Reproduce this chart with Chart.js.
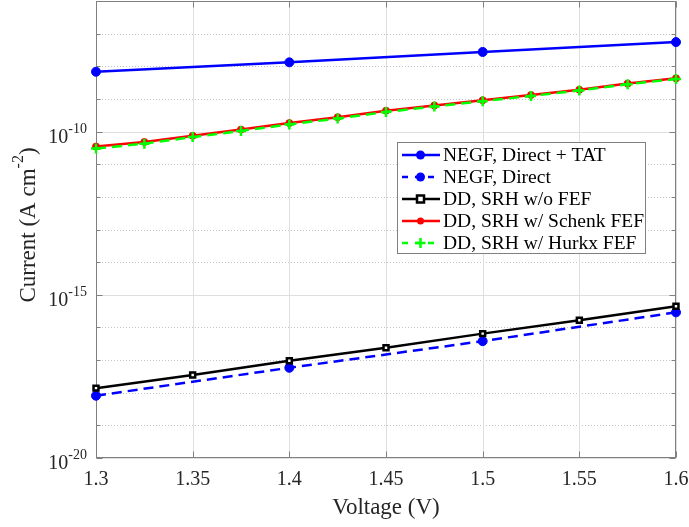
<!DOCTYPE html>
<html>
<head>
<meta charset="utf-8">
<script src="https://cdn.jsdelivr.net/npm/chart.js@4"></script>
<style>
  html, body { margin: 0; padding: 0; background: #fff; }
  #wrap { width: 689px; height: 527px; }
</style>
</head>
<body>
<div id="wrap"><canvas id="chart" width="689" height="527"></canvas></div>
<script>
// bias sweep (V)
const voltageCoarse = [1.3, 1.4, 1.5, 1.6];
const voltageMid = [1.3, 1.35, 1.4, 1.45, 1.5, 1.55, 1.6];
const voltageFine = [1.3, 1.325, 1.35, 1.375, 1.4, 1.425, 1.45, 1.475, 1.5, 1.525, 1.55, 1.575, 1.6];

// current density (A cm^-2)
const negfDirectTat = [6.8e-9, 1.32e-8, 2.75e-8, 5.5e-8];
const negfDirect = [8.1e-19, 5.8e-18, 3.8e-17, 2.9e-16];
const ddSrhNoFef = [1.38e-18, 3.47e-18, 9.55e-18, 2.4e-17, 6.46e-17, 1.66e-16, 4.47e-16];
const ddSrhSchenk = [3.47e-11, 4.79e-11, 7.41e-11, 1.15e-10, 1.82e-10, 2.75e-10, 4.37e-10,
                     6.31e-10, 9.12e-10, 1.32e-9, 1.91e-9, 2.95e-9, 4.27e-9];
const ddSrhHurkx = [3.02e-11, 4.27e-11, 6.76e-11, 1.05e-10, 1.66e-10, 2.51e-10, 3.98e-10,
                    5.89e-10, 8.51e-10, 1.23e-9, 1.82e-9, 2.82e-9, 4.07e-9];

const seriesNames = ['NEGF, Direct + TAT', 'NEGF, Direct', 'DD, SRH w/o FEF',
                     'DD, SRH w/ Schenk FEF', 'DD, SRH w/ Hurkx FEF'];

const xTicks = [1.3, 1.35, 1.4, 1.45, 1.5, 1.55, 1.6];
const xTickLabels = ['1.3', '1.35', '1.4', '1.45', '1.5', '1.55', '1.6'];
const yLabelExps = [-20, -15, -10];
const yDecadeExps = [-20, -19, -18, -17, -16, -15, -14, -13, -12, -11, -10, -9, -8, -7, -6];

const SERIF = '"Liberation Serif", "Times New Roman", serif';
const TXT = '#262626';

function pts(xs, ys) {
  return xs.map((x, i) => ({ x: x, y: ys[i] }));
}

const styles = [
  { color: '#0000ff', dash: [], marker: 'circle', r: 4.5, fill: '#0000ff', bw: 1 },
  { color: '#0000ff', dash: [10, 6], marker: 'circle', r: 4.5, fill: '#0000ff', bw: 1 },
  { color: '#000000', dash: [], marker: 'rect', r: 3.5, fill: '#ffffff', bw: 2.5 },
  { color: '#ff0000', dash: [], marker: 'circle', r: 3.5, fill: '#ff0000', bw: 1 },
  { color: '#00ff00', dash: [10, 6], marker: 'cross', r: 5, fill: '#00ff00', bw: 2.5 }
];

const seriesData = [
  pts(voltageCoarse, negfDirectTat),
  pts(voltageCoarse, negfDirect),
  pts(voltageMid, ddSrhNoFef),
  pts(voltageFine, ddSrhSchenk),
  pts(voltageFine, ddSrhHurkx)
];

const datasets = seriesData.map((d, i) => ({
  label: seriesNames[i],
  data: d,
  borderColor: styles[i].color,
  borderWidth: 2.5,
  borderDash: styles[i].dash,
  pointStyle: styles[i].marker,
  pointRadius: styles[i].r,
  pointBackgroundColor: styles[i].fill,
  pointBorderColor: styles[i].color,
  pointBorderWidth: styles[i].bw,
  tension: 0,
  clip: false,
  order: 5 - i
}));

// axes box, grid, ticks, labels and legend in the MATLAB look
const frame = {
  id: 'frame',
  beforeDatasetsDraw(chart) {
    const { ctx, chartArea: a, scales: { x, y } } = chart;
    ctx.save();
    ctx.lineWidth = 1;
    // decade grid
    yDecadeExps.forEach(e => {
      const py = Math.round(y.getPixelForValue(Math.pow(10, e))) + 0.5;
      if (e % 5 === 0) {
        ctx.setLineDash([]);
        ctx.strokeStyle = '#dfdfdf';
      } else {
        ctx.setLineDash([1, 2]);
        ctx.strokeStyle = '#c4c4c4';
      }
      ctx.beginPath();
      ctx.moveTo(a.left, py);
      ctx.lineTo(a.right, py);
      ctx.stroke();
    });
    ctx.setLineDash([]);
    ctx.strokeStyle = '#dfdfdf';
    xTicks.forEach(v => {
      const px = Math.round(x.getPixelForValue(v)) + 0.5;
      ctx.beginPath();
      ctx.moveTo(px, a.top);
      ctx.lineTo(px, a.bottom);
      ctx.stroke();
    });
    // box
    ctx.strokeStyle = '#808080';
    const L = Math.round(a.left) + 0.5, R = Math.round(a.right) - 0.5;
    const T = Math.round(a.top) + 0.5, B = Math.round(a.bottom) - 0.5;
    ctx.strokeRect(L, T, R - L, B - T);
    // inward ticks
    ctx.beginPath();
    xTicks.forEach(v => {
      const px = Math.round(x.getPixelForValue(v)) + 0.5;
      ctx.moveTo(px, B); ctx.lineTo(px, B - 6);
      ctx.moveTo(px, T); ctx.lineTo(px, T + 6);
    });
    yDecadeExps.forEach(e => {
      const py = Math.round(y.getPixelForValue(Math.pow(10, e))) + 0.5;
      const len = e % 5 === 0 ? 6 : 4;
      ctx.moveTo(L, py); ctx.lineTo(L + len, py);
      ctx.moveTo(R, py); ctx.lineTo(R - len, py);
    });
    ctx.stroke();
    ctx.restore();
  },
  afterDraw(chart) {
    const { ctx, chartArea: a, scales: { x, y } } = chart;
    ctx.save();
    ctx.fillStyle = TXT;

    // x tick labels
    ctx.font = '20px ' + SERIF;
    ctx.textAlign = 'center';
    ctx.textBaseline = 'alphabetic';
    xTicks.forEach((v, i) => {
      ctx.fillText(xTickLabels[i], x.getPixelForValue(v), 485);
    });

    // y tick labels 10^n
    ctx.textAlign = 'left';
    yLabelExps.forEach(e => {
      const py = y.getPixelForValue(Math.pow(10, e));
      const sup = '-' + Math.abs(e);
      ctx.font = '14px ' + SERIF;
      const sw = ctx.measureText(sup).width;
      ctx.font = '20px ' + SERIF;
      const bw = ctx.measureText('10').width;
      const x0 = 87 - sw - bw;
      ctx.fillText('10', x0, py + 11);
      ctx.font = '14px ' + SERIF;
      ctx.fillText(sup, x0 + bw, py + 1);
    });

    // x axis title
    ctx.font = '23px ' + SERIF;
    ctx.textAlign = 'center';
    ctx.fillText('Voltage (V)', (a.left + a.right) / 2, 514);

    // y axis title with superscript
    ctx.save();
    ctx.translate(35, 225);
    ctx.rotate(-Math.PI / 2);
    ctx.textAlign = 'left';
    const p1 = 'Current (A cm', p2 = '-2', p3 = ')';
    ctx.font = '23px ' + SERIF;
    const w1 = ctx.measureText(p1).width, w3 = ctx.measureText(p3).width;
    ctx.font = '16px ' + SERIF;
    const w2 = ctx.measureText(p2).width;
    let tx = -(w1 + w2 + w3) / 2;
    ctx.font = '23px ' + SERIF;
    ctx.fillText(p1, tx, 0);
    ctx.font = '16px ' + SERIF;
    ctx.fillText(p2, tx + w1, -12);
    ctx.font = '23px ' + SERIF;
    ctx.fillText(p3, tx + w1 + w2, 0);
    ctx.restore();

    // legend
    const bx = 397.5, by = 142.5, bw2 = 248, bh = 111;
    ctx.fillStyle = '#ffffff';
    ctx.fillRect(bx, by, bw2, bh);
    ctx.strokeStyle = '#808080';
    ctx.lineWidth = 1;
    ctx.strokeRect(bx, by, bw2, bh);
    const rows = [155, 177, 199, 221, 243];
    datasets.forEach((ds, i) => {
      const st = styles[i];
      const ry = rows[i];
      ctx.save();
      ctx.strokeStyle = st.color;
      ctx.lineWidth = 2.5;
      ctx.setLineDash(st.dash.length ? [6, 7] : []);
      ctx.beginPath();
      ctx.moveTo(402, ry);
      ctx.lineTo(440, ry);
      ctx.stroke();
      ctx.setLineDash([]);
      const mx = 420.5;
      if (st.marker === 'circle') {
        ctx.fillStyle = st.fill;
        ctx.beginPath();
        ctx.arc(mx, ry, st.r, 0, Math.PI * 2);
        ctx.fill();
      } else if (st.marker === 'rect') {
        ctx.fillStyle = st.fill;
        ctx.lineWidth = st.bw;
        ctx.fillRect(mx - 3.5, ry - 3.5, 7, 7);
        ctx.strokeRect(mx - 3.5, ry - 3.5, 7, 7);
      } else {
        ctx.lineWidth = st.bw;
        ctx.beginPath();
        ctx.moveTo(mx - st.r, ry); ctx.lineTo(mx + st.r, ry);
        ctx.moveTo(mx, ry - st.r); ctx.lineTo(mx, ry + st.r);
        ctx.stroke();
      }
      ctx.restore();
      ctx.fillStyle = '#000000';
      ctx.font = '19.5px ' + SERIF;
      ctx.textAlign = 'left';
      ctx.textBaseline = 'middle';
      ctx.fillText(ds.label, 443, ry + 1);
    });
    ctx.restore();
  }
};

new Chart(document.getElementById('chart').getContext('2d'), {
  type: 'line',
  data: { datasets: datasets },
  options: {
    responsive: false,
    devicePixelRatio: 1,
    animation: false,
    layout: { autoPadding: false, padding: { top: 1, right: 13, left: 0, bottom: 0 } },
    plugins: { legend: { display: false }, tooltip: { enabled: false } },
    scales: {
      x: {
        type: 'linear',
        min: 1.3,
        max: 1.6,
        ticks: { display: false },
        grid: { display: false },
        border: { display: false },
        afterFit: s => { s.height = 69; }
      },
      y: {
        type: 'logarithmic',
        min: 1e-20,
        max: 1e-6,
        ticks: { display: false },
        grid: { display: false },
        border: { display: false },
        afterFit: s => { s.width = 96; }
      }
    }
  },
  plugins: [frame]
});
</script>
</body>
</html>
